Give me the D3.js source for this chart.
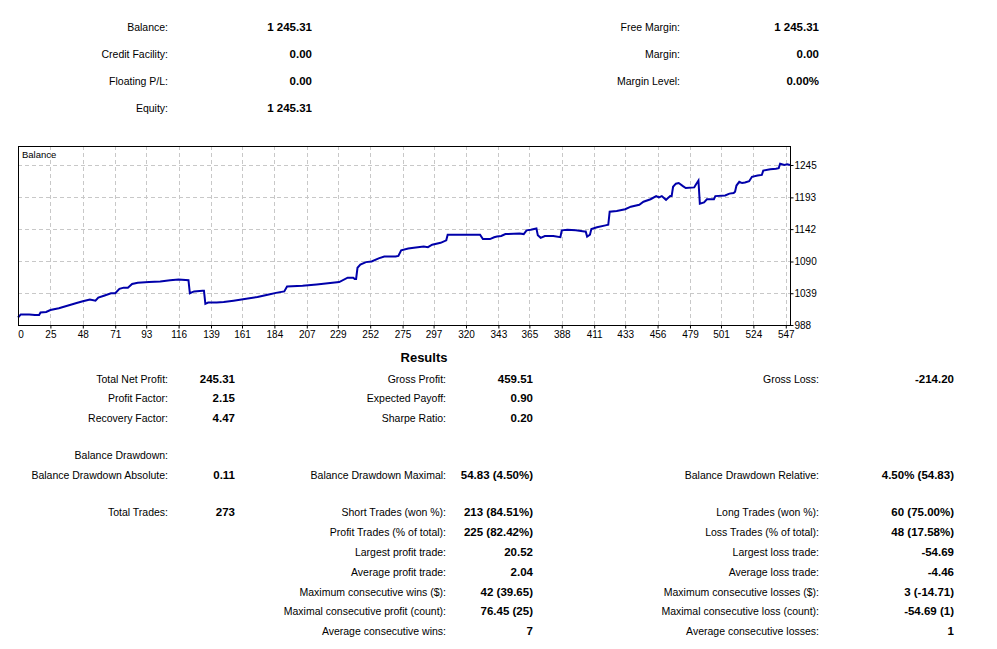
<!DOCTYPE html>
<html>
<head>
<meta charset="utf-8">
<script src="https://cdn.jsdelivr.net/npm/d3@7"></script>
<style>
body { margin: 0; background: #fff; }
text { font-family: "Liberation Sans", Arial, sans-serif; }
</style>
</head>
<body>
<script>
// account summary (top block)
var accLeftLabels = ["Balance:", "Credit Facility:", "Floating P/L:", "Equity:"];
var accLeftValues = ["1 245.31", "0.00", "0.00", "1 245.31"];
var accRightLabels = ["Free Margin:", "Margin:", "Margin Level:"];
var accRightValues = ["1 245.31", "0.00", "0.00%"];

// balance curve: deal index, balance
var dealIdx = [2, 4, 10, 14, 17, 18, 22, 25, 31, 37, 43, 48, 53, 57, 59, 63, 68, 71, 74, 77,
  80, 83, 87, 95, 103, 110, 116, 123, 124, 127, 133, 134, 135, 137, 143, 148, 155, 164, 172, 180,
  186, 191, 193, 204, 214, 222, 230, 236, 240, 241, 242, 243, 245, 249, 253, 258, 262, 270, 272, 274,
  279, 283, 290, 293, 296, 302, 306, 307, 314, 330, 332, 337, 340, 342, 345, 348, 358, 361, 363, 366,
  370, 371, 373, 376, 382, 387, 388, 392, 398, 404, 405, 406, 408, 409, 413, 419, 421, 422, 427, 433,
  437, 443, 446, 451, 455, 457, 459, 462, 463, 465, 466, 467, 469, 471, 474, 476, 482, 483, 485, 486,
  489, 491, 496, 497, 504, 507, 510, 511, 512, 514, 516, 518, 521, 523, 527, 530, 531, 536, 540, 542,
  543, 546, 548, 550];
var balance = [1000, 1005, 1005, 1004, 1004, 1008, 1009, 1012, 1015, 1019, 1023, 1026, 1029, 1027, 1032, 1035, 1039, 1039, 1046, 1048,
  1048, 1054, 1056, 1057, 1058, 1060, 1061, 1060, 1039, 1042, 1043, 1043, 1022, 1024, 1024, 1025, 1027, 1030, 1033, 1037,
  1040, 1042, 1050, 1051, 1053, 1055, 1057, 1064, 1064, 1062, 1062, 1080, 1085, 1089, 1090, 1095, 1098, 1098, 1099, 1108,
  1111, 1112, 1114, 1113, 1117, 1120, 1124, 1133, 1133, 1133, 1126, 1126, 1129, 1130, 1131, 1134, 1135, 1134, 1140, 1141,
  1143, 1132, 1128, 1131, 1131, 1129, 1140, 1141, 1140, 1138, 1138, 1130, 1133, 1142, 1145, 1148, 1149, 1170, 1171, 1174,
  1178, 1181, 1186, 1190, 1195, 1193, 1195, 1189, 1191, 1195, 1195, 1210, 1215, 1216, 1211, 1208, 1209, 1213, 1220, 1183,
  1185, 1190, 1190, 1195, 1196, 1199, 1200, 1202, 1212, 1218, 1216, 1217, 1219, 1226, 1228, 1229, 1236, 1238, 1239, 1240,
  1247, 1245, 1246, 1245];

var xTicks = [0, 25, 48, 71, 93, 116, 139, 161, 184, 207, 229, 252, 275, 297, 320, 343, 365, 388, 411, 433, 456, 479, 501, 524, 547];
var yTicks = [988, 1039, 1090, 1142, 1193, 1245];

// results block: [label, value] per column
var resCol1 = [["Total Net Profit:", "245.31"], ["Profit Factor:", "2.15"], ["Recovery Factor:", "4.47"], null,
  ["Balance Drawdown:", ""], ["Balance Drawdown Absolute:", "0.11"], null,
  ["Total Trades:", "273"]];
var resCol2 = [["Gross Profit:", "459.51"], ["Expected Payoff:", "0.90"], ["Sharpe Ratio:", "0.20"], null,
  null, ["Balance Drawdown Maximal:", "54.83 (4.50%)"], null,
  ["Short Trades (won %):", "213 (84.51%)"], ["Profit Trades (% of total):", "225 (82.42%)"],
  ["Largest profit trade:", "20.52"], ["Average profit trade:", "2.04"],
  ["Maximum consecutive wins ($):", "42 (39.65)"], ["Maximal consecutive profit (count):", "76.45 (25)"],
  ["Average consecutive wins:", "7"]];
var resCol3 = [["Gross Loss:", "-214.20"], null, null, null,
  null, ["Balance Drawdown Relative:", "4.50% (54.83)"], null,
  ["Long Trades (won %):", "60 (75.00%)"], ["Loss Trades (% of total):", "48 (17.58%)"],
  ["Largest loss trade:", "-54.69"], ["Average loss trade:", "-4.46"],
  ["Maximum consecutive losses ($):", "3 (-14.71)"], ["Maximal consecutive loss (count):", "-54.69 (1)"],
  ["Average consecutive losses:", "1"]];
var resRowY = [379, 398, 418, 437, 455, 475, 494, 512, 532, 552, 572, 592, 611, 631];

var width = 997, height = 649;
var svg = d3.select("body").append("svg")
  .attr("width", width)
  .attr("height", height);

// helper for label/value pairs
function pairs(rows, ys, labelX, valueX) {
  rows.forEach(function(r, i) {
    if (!r) return;
    svg.append("text")
      .attr("x", labelX).attr("y", ys[i]).attr("dy", "0.35em")
      .attr("text-anchor", "end").attr("font-size", 10.5)
      .text(r[0]);
    if (r[1] !== "") {
      svg.append("text")
        .attr("x", valueX).attr("y", ys[i]).attr("dy", "0.35em")
        .attr("text-anchor", "end").attr("font-size", 11.5).attr("font-weight", "bold")
        .text(r[1]);
    }
  });
}

var accY = [27, 54, 81, 108];
pairs(accLeftLabels.map(function(l, i) { return [l, accLeftValues[i]]; }), accY, 168, 312);
pairs(accRightLabels.map(function(l, i) { return [l, accRightValues[i]]; }), accY, 680, 819);

// chart
var pL = 18, pR = 790, pT = 146, pB = 325;
var x = d3.scaleLinear().domain([2, 550]).range([pL, pR]);
var y = d3.scaleLinear().domain([988, 1275.5]).range([pB, pT]);

var grid = svg.append("g").attr("stroke", "#c8c8c8").attr("stroke-dasharray", "4,3");
grid.selectAll("line.v").data(xTicks.slice(1)).enter().append("line")
  .attr("x1", function(d) { return Math.round(x(d)) + 0.5; })
  .attr("x2", function(d) { return Math.round(x(d)) + 0.5; })
  .attr("y1", pT).attr("y2", pB);
grid.selectAll("line.h").data(yTicks.slice(1)).enter().append("line")
  .attr("y1", function(d) { return Math.round(y(d)) + 0.5; })
  .attr("y2", function(d) { return Math.round(y(d)) + 0.5; })
  .attr("x1", pL).attr("x2", pR);

// axes
var xAxis = d3.axisBottom(x).tickValues(xTicks).tickFormat(d3.format("d")).tickSize(3).tickSizeOuter(0);
var gx = svg.append("g").attr("transform", "translate(0," + (pB + 0.5) + ")").call(xAxis);
gx.select(".domain").remove();
gx.selectAll(".tick").filter(function(d) { return d === 0; })
  .attr("transform", "translate(" + (pL + 3) + ",0)").select("line").remove();
gx.selectAll("text").attr("font-size", 10).attr("font-family", "Liberation Sans, Arial, sans-serif")
  .attr("fill", "#000").attr("y", 5);

var yAxis = d3.axisRight(y).tickValues(yTicks).tickFormat(d3.format("d")).tickSize(3).tickSizeOuter(0);
var gy = svg.append("g").attr("transform", "translate(" + (pR + 0.5) + ",0)").call(yAxis);
gy.select(".domain").remove();
gy.selectAll("text").attr("font-size", 10).attr("font-family", "Liberation Sans, Arial, sans-serif")
  .attr("fill", "#000").attr("x", 4);

// balance line
var line = d3.line()
  .x(function(d, i) { return x(dealIdx[i]); })
  .y(function(d) { return y(d); });
svg.append("path").datum(balance)
  .attr("d", line)
  .attr("fill", "none")
  .attr("stroke", "#0000aa")
  .attr("stroke-width", 2)
  .attr("stroke-linejoin", "miter");

// frame
svg.append("rect")
  .attr("x", pL + 0.5).attr("y", pT + 0.5)
  .attr("width", pR - pL).attr("height", pB - pT)
  .attr("fill", "none").attr("stroke", "#000");

svg.append("text").attr("x", 22).attr("y", 155).attr("dy", "0.35em")
  .attr("font-size", 9.5).text("Balance");

// results
svg.append("text").attr("x", 424).attr("y", 357).attr("dy", "0.35em")
  .attr("text-anchor", "middle").attr("font-size", 13).attr("font-weight", "bold")
  .text("Results");
pairs(resCol1, resRowY, 168, 235);
pairs(resCol2, resRowY, 446, 533);
pairs(resCol3, resRowY, 819, 954);
</script>
</body>
</html>
